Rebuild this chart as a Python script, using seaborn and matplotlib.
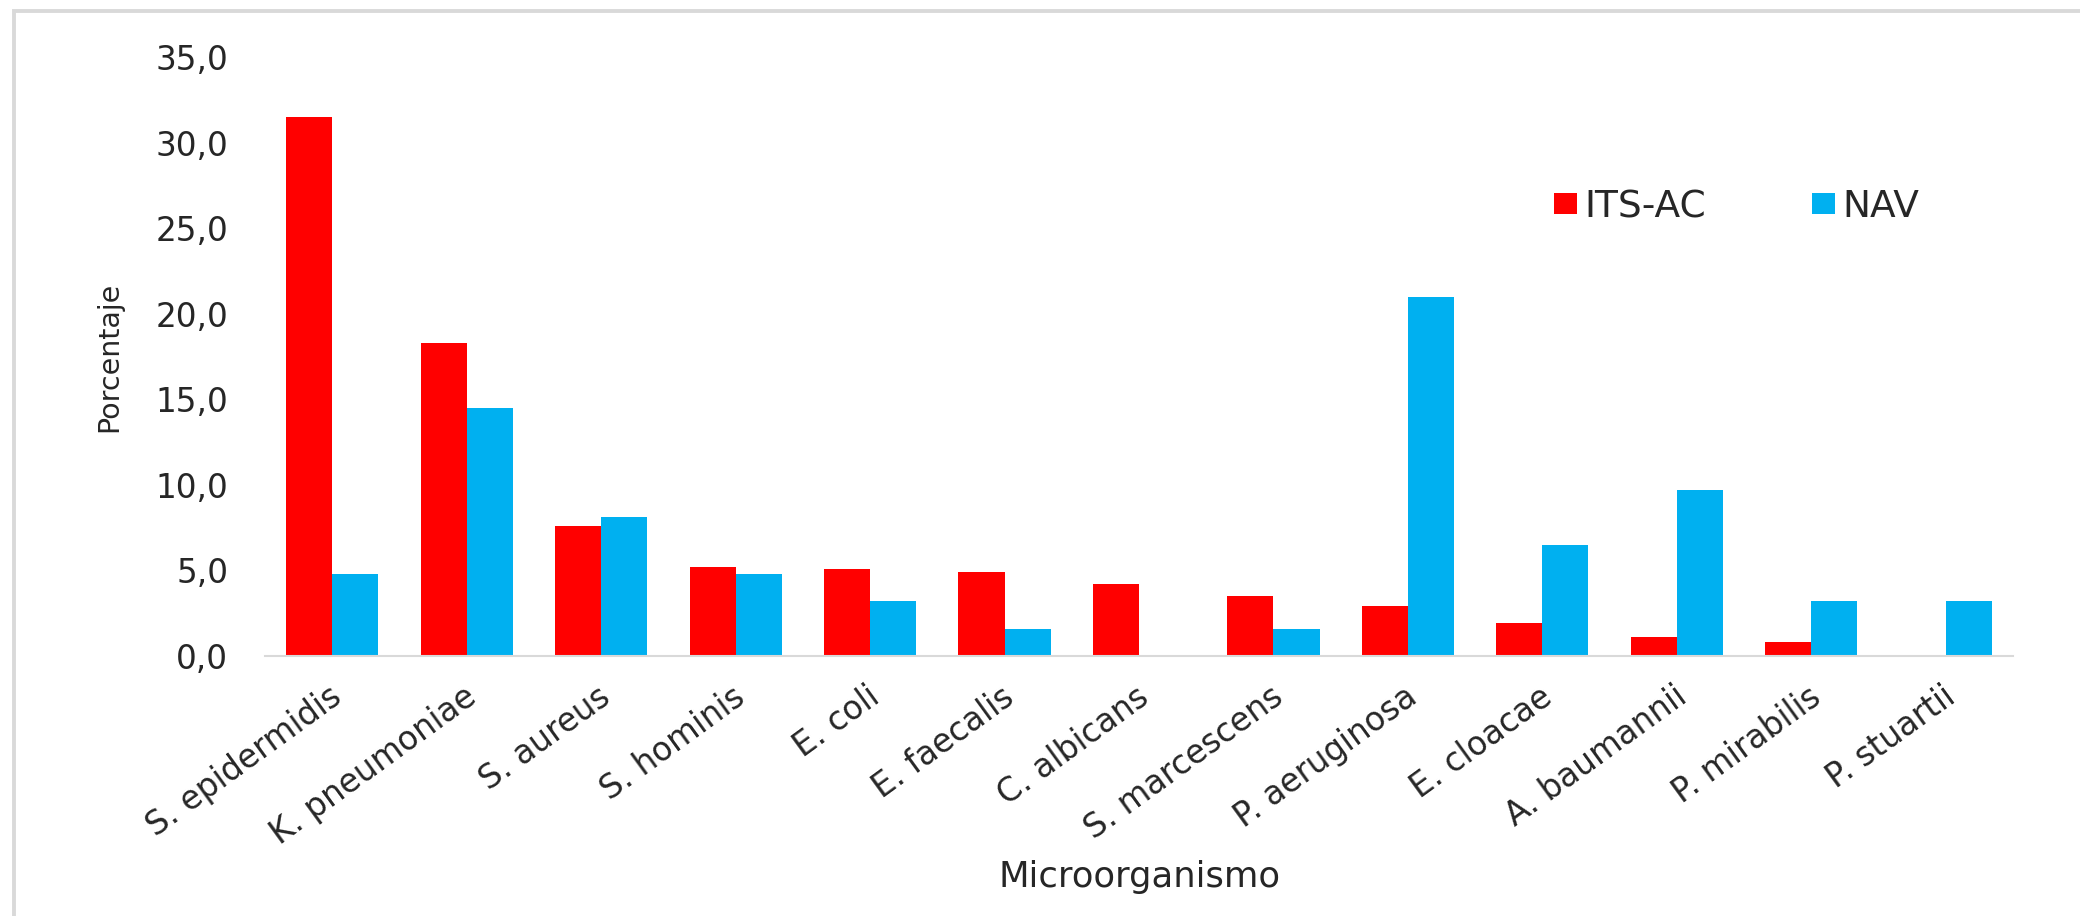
import matplotlib
matplotlib.use("Agg")
import matplotlib.pyplot as plt
import matplotlib.transforms as mtransforms
from matplotlib.patches import Rectangle
from matplotlib.ticker import FixedLocator, FuncFormatter
import pandas as pd
import seaborn as sns

# Microorganisms isolated, percentage per infection type
organisms = [
    "S. epidermidis", "K. pneumoniae", "S. aureus", "S. hominis", "E. coli",
    "E. faecalis", "C. albicans", "S. marcescens", "P. aeruginosa",
    "E. cloacae", "A. baumannii", "P. mirabilis", "P. stuartii",
]
its_ac = [31.5, 18.3, 7.6, 5.2, 5.1, 4.9, 4.2, 3.5, 2.9, 1.9, 1.1, 0.8, 0.0]
nav = [4.8, 14.5, 8.1, 4.8, 3.2, 1.6, 0.0, 1.6, 21.0, 6.5, 9.7, 3.2, 3.2]
groups = ["ITS-AC", "NAV"]
colors = ["#FF0000", "#00B0F0"]
y_ticks = [0, 5, 10, 15, 20, 25, 30, 35]

df = pd.DataFrame({
    "Microorganismo": organisms * 2,
    "Porcentaje": its_ac + nav,
    "Grupo": [groups[0]] * len(organisms) + [groups[1]] * len(organisms),
})

sns.set_theme(style="white")
plt.rcParams["font.family"] = ["DejaVu Sans"]
text_color = "#262626"

W, H = 2080, 916
fig = plt.figure(figsize=(W / 100, H / 100), dpi=100)
ax = fig.add_axes([265 / W, 260 / H, 1748 / W, 599 / H])

sns.barplot(
    data=df, x="Microorganismo", y="Porcentaje", hue="Grupo",
    hue_order=groups, palette=colors, width=0.685, saturation=1,
    errorbar=None, linewidth=0, ax=ax,
)

# axis ranges and ticks
ax.set_ylim(0, 35)
ax.yaxis.set_major_locator(FixedLocator(y_ticks))
ax.yaxis.set_major_formatter(FuncFormatter(lambda v, _: f"{v:.1f}".replace(".", ",")))
for side in ("left", "top", "right"):
    ax.spines[side].set_visible(False)
ax.spines["bottom"].set_color("#d9d9d9")
ax.spines["bottom"].set_linewidth(1.5)

ax.tick_params(axis="y", length=0, pad=26.5, labelsize=23.5, labelcolor=text_color)
ax.tick_params(axis="x", length=0, pad=27, labelsize=23.5, labelcolor=text_color)

shift = mtransforms.ScaledTranslation(6 / 100, 0, fig.dpi_scale_trans)
for lab in ax.get_xticklabels():
    lab.set_rotation(36)
    lab.set_ha("right")
    lab.set_va("center")
    lab.set_rotation_mode("anchor")
    lab.set_transform(lab.get_transform() + shift)

ax.set_ylabel("Porcentaje", fontsize=20.5, color=text_color)
ax.yaxis.set_label_coords((123 - 265) / 1748, 0.5)
ax.set_xlabel("Microorganismo", fontsize=25.5, color=text_color)
ax.xaxis.set_label_coords(0.5, (656 - 860) / 599)

handles, labels = ax.get_legend_handles_labels()
ax.legend(
    handles, labels, ncol=2, frameon=False, fontsize=27,
    handlelength=0.62, handleheight=0.5, handletextpad=0.2,
    columnspacing=2.8, borderpad=0, borderaxespad=0,
    loc="center left", bbox_to_anchor=(1554 / W, 1 - 207 / H),
    bbox_transform=fig.transFigure, labelcolor=text_color,
)

# chart-area frame
fig.add_artist(Rectangle(
    (14 / W, -0.05), 1.2, 1 - 11 / H + 0.05, transform=fig.transFigure,
    fill=False, edgecolor="#d9d9d9", linewidth=2.8,
))

fig.savefig("out.png", dpi=100)
